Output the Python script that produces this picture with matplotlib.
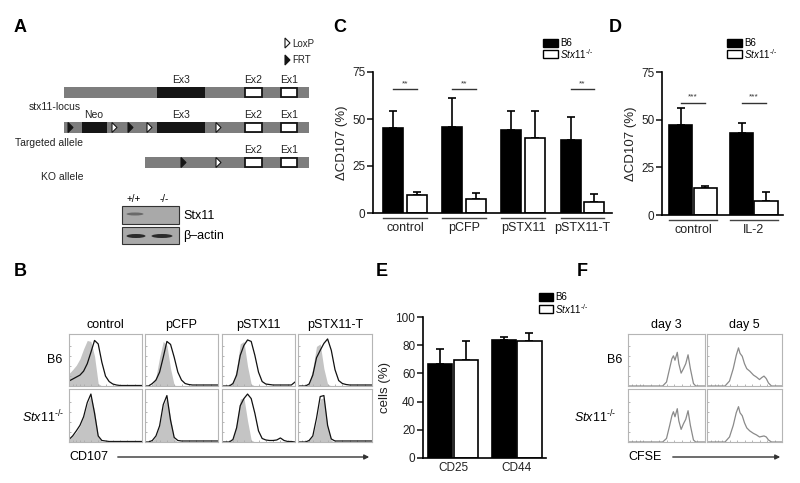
import numpy as np
import matplotlib
matplotlib.use('Agg')
import matplotlib.pyplot as plt
from matplotlib.patches import Rectangle, Polygon, Ellipse

plt.rcParams['font.family'] = ['Liberation Sans', 'DejaVu Sans']
plt.rcParams['mathtext.fontset'] = 'custom'
plt.rcParams['mathtext.rm'] = 'Liberation Sans'
plt.rcParams['mathtext.it'] = 'Liberation Sans:italic'

W, H = 800, 483
STX = r'$\mathit{Stx11}^{\text{-/-}}$'

# ---- datos panel C (degranulacion) ----
c_groups = ['control', 'pCFP', 'pSTX11', 'pSTX11-T']
c_b6 = [45, 46, 44, 39]
c_b6_err = [9, 15, 10, 12]
c_ko = [9.5, 7.5, 40, 6]
c_ko_err = [1.5, 3, 14, 4]
c_sig = ['**', '**', '', '**']

# ---- datos panel D ----
d_groups = ['control', 'IL-2']
d_b6 = [47, 43]
d_b6_err = [9, 5]
d_ko = [14, 7.5]
d_ko_err = [1.2, 4.5]
d_sig = ['***', '***']

# ---- datos panel E ----
e_groups = ['CD25', 'CD44']
e_b6 = [67, 84]
e_b6_err = [10, 1.5]
e_ko = [69.5, 83]
e_ko_err = [13.5, 6]

# ---- histogramas panel B (x comun, gris = isotipo, negro = muestra) ----
b_cols = ['control', 'pCFP', 'pSTX11', 'pSTX11-T']
hist_x = [0, .05, .10, .15, .20, .25, .30, .35, .40, .45, .50,
          .55, .60, .65, .70, .75, .80, .85, .90, .95, 1.0]
b6_gray = [
    [.25, .33, .42, .55, .75, .92, .90, .60, .05, 0, 0, 0, 0, 0, 0, 0, 0, 0, 0, 0, 0],
    [0, 0, .02, .18, .58, .90, .82, .35, .02, 0, 0, 0, 0, 0, 0, 0, 0, 0, 0, 0, 0],
    [0, 0, 0, .06, .35, .85, .90, .40, .04, 0, 0, 0, 0, 0, 0, 0, 0, 0, 0, 0, 0],
    [0, 0, 0, .06, .35, .80, .85, .35, .04, 0, 0, 0, 0, 0, 0, 0, 0, 0, 0, 0, 0],
]
b6_black = [
    [.10, .14, .18, .22, .30, .45, .68, .92, .85, .48, .20, .09, .04, .02, .01, .01, .01, .01, .01, .01, .01],
    [0, 0, .05, .12, .28, .58, .90, .84, .58, .28, .12, .05, .03, .02, .02, .02, .02, .02, .02, .02, .02],
    [0, 0, 0, .05, .22, .62, .82, .93, .90, .62, .28, .09, .04, .03, .02, .02, .02, .02, .02, .02, .08],
    [0, 0, 0, .04, .22, .57, .72, .86, .95, .72, .33, .11, .05, .03, .02, .02, .02, .02, .02, .02, .02],
]
ko_gray = [
    [.05, .12, .20, .32, .50, .75, .92, .62, .12, 0, 0, 0, 0, 0, 0, 0, 0, 0, 0, 0, 0],
    [0, 0, .02, .12, .32, .72, .88, .48, .06, 0, 0, 0, 0, 0, 0, 0, 0, 0, 0, 0, 0],
    [0, 0, 0, .06, .38, .85, .88, .42, .04, 0, 0, 0, 0, 0, 0, 0, 0, 0, 0, 0, 0],
    [0, 0, 0, .03, .12, .42, .85, .88, .32, .03, 0, 0, 0, 0, 0, 0, 0, 0, 0, 0, 0],
]
ko_black = [
    [.05, .12, .22, .33, .50, .78, .95, .57, .12, .03, .02, .01, .01, .01, .01, .01, .01, .01, .01, .01, .01],
    [0, 0, .03, .12, .32, .74, .92, .43, .09, .03, .02, .02, .02, .02, .02, .02, .02, .02, .02, .02, .02],
    [0, 0, 0, .05, .28, .72, .86, .95, .86, .57, .22, .07, .04, .03, .03, .04, .08, .03, .01, .01, 0],
    [0, 0, 0, .03, .12, .47, .90, .92, .33, .06, .02, .02, .02, .02, .02, .02, .02, .02, .02, .02, .02],
]

# ---- histogramas CFSE panel F ----
f_cols = ['day 3', 'day 5']
d3_x = [0, .45, .50, .54, .57, .59, .61, .625, .64, .66, .69, .72, .75, .78, .81, .85, .88, 1]
d3_b6 = [0, 0, .08, .35, .55, .61, .52, .60, .68, .45, .26, .35, .45, .63, .35, .05, 0, 0]
d3_ko = [0, 0, .07, .32, .52, .60, .50, .58, .66, .42, .25, .36, .45, .62, .33, .04, 0, 0]
d5_x = [0, .24, .30, .35, .39, .42, .44, .47, .50, .53, .57, .62, .66, .70, .73, .76, .79, .82, .86, 1]
d5_b6 = [0, 0, .10, .35, .62, .77, .66, .60, .45, .35, .30, .22, .18, .13, .17, .20, .15, .06, 0, 0]
d5_ko = [0, 0, .10, .33, .58, .70, .58, .52, .38, .28, .22, .17, .14, .10, .11, .12, .10, .04, 0, 0]


def px(x0, y0, x1, y1):
    return [x0 / W, 1 - y1 / H, (x1 - x0) / W, (y1 - y0) / H]


fig = plt.figure(figsize=(8, 4.83), dpi=100)
ax0 = fig.add_axes([0, 0, 1, 1])
ax0.set_xlim(0, W)
ax0.set_ylim(H, 0)
ax0.axis('off')

# letras de panel
for letra, lx, ly in [('A', 14, 27), ('B', 14, 271), ('C', 333, 27),
                      ('D', 609, 27), ('E', 376, 271), ('F', 577, 271)]:
    ax0.text(lx, ly, letra, fontsize=13, fontweight='bold', ha='left', va='center')


# ---- panel A: esquema del locus ----
def barra(x0, x1, yc):
    ax0.add_patch(Rectangle((x0, yc - 5.5), x1 - x0, 11, fc='#7d7d7d', ec='none'))


def exon(x0, x1, yc, negro=False):
    if negro:
        ax0.add_patch(Rectangle((x0, yc - 5.5), x1 - x0, 11, fc='#151515', ec='none'))
    else:
        ax0.add_patch(Rectangle((x0, yc - 4.5), x1 - x0, 9, fc='white', ec='#151515', lw=1.3))


def tri(x, yc, lleno):
    ax0.add_patch(Polygon([(x, yc - 5), (x, yc + 5), (x + 5, yc)], closed=True,
                          fc='#151515' if lleno else 'white', ec='#151515', lw=0.8))


def etiqueta(x, y, s, ha='center', fs=7.5):
    ax0.text(x, y, s, fontsize=fs, ha=ha, va='center', color='#222')


# stx11-locus
barra(64, 309, 92.5)
exon(157, 205, 92.5, negro=True)
exon(245, 262, 92.5)
exon(281, 297, 92.5)
etiqueta(181, 80, 'Ex3'); etiqueta(253, 80, 'Ex2'); etiqueta(289, 80, 'Ex1')
etiqueta(29, 107, 'stx11-locus', ha='left')

# targeted allele
barra(64, 309, 127.5)
exon(82, 107, 127.5, negro=True)
exon(157, 205, 127.5, negro=True)
exon(245, 262, 127.5)
exon(281, 297, 127.5)
for tx, lleno in [(68, True), (112, False), (128, True), (147, False), (216, False)]:
    tri(tx, 127.5, lleno)
etiqueta(94, 115, 'Neo'); etiqueta(181, 115, 'Ex3')
etiqueta(253, 115, 'Ex2'); etiqueta(289, 115, 'Ex1')
etiqueta(15, 143, 'Targeted allele', ha='left')

# KO allele
barra(145, 309, 162.5)
exon(245, 262, 162.5)
exon(281, 297, 162.5)
tri(181, 162.5, True)
tri(216, 162.5, False)
etiqueta(253, 150, 'Ex2'); etiqueta(289, 150, 'Ex1')
etiqueta(41, 177, 'KO allele', ha='left')

# leyenda LoxP / FRT
tri(285, 43, False)
tri(285, 60, True)
etiqueta(292, 44, 'LoxP', ha='left', fs=7)
etiqueta(292, 60, 'FRT', ha='left', fs=7)

# western blot
ax0.add_patch(Rectangle((122, 206), 57, 18, fc='#a9a9a9', ec='#333', lw=0.8))
ax0.add_patch(Rectangle((122, 227), 57, 17, fc='#a9a9a9', ec='#333', lw=0.8))
ax0.add_patch(Ellipse((135, 214), 17, 3, fc='#5a5a5a', ec='none', alpha=0.8))
ax0.add_patch(Ellipse((136, 236), 19, 4, fc='#2a2a2a', ec='none'))
ax0.add_patch(Ellipse((162, 236), 21, 4, fc='#2a2a2a', ec='none'))
ax0.text(134, 199, '+/+', fontsize=7, ha='center', va='center')
ax0.text(164, 199, '-/-', fontsize=7, ha='center', va='center')
ax0.text(183, 216, 'Stx11', fontsize=9, ha='left', va='center')
ax0.text(183, 236, 'β–actin', fontsize=9, ha='left', va='center')


# ---- paneles de barras C, D, E ----
def bar_panel(rect, groups, b6, b6_err, ko, ko_err, ymax, yticks, ylabel,
              xlim, bw, off, sig=None, sig_y=0, underline=False, lab_dy=15, fs=9):
    x0, y0, x1, y1 = rect
    ax = fig.add_axes(px(x0, y0, x1, y1))
    ax.set_facecolor('none')
    pos = np.arange(len(groups))
    cero = [0] * len(pos)
    ax.errorbar(pos - off, b6, yerr=[cero, b6_err], fmt='none', ecolor='black',
                elinewidth=1.2, capsize=3, capthick=1.2, zorder=1)
    ax.errorbar(pos + off, ko, yerr=[cero, ko_err], fmt='none', ecolor='black',
                elinewidth=1.2, capsize=3, capthick=1.2, zorder=1)
    ax.bar(pos - off, b6, bw, color='black', edgecolor='black', lw=1.2, zorder=2)
    ax.bar(pos + off, ko, bw, color='white', edgecolor='black', lw=1.2, zorder=2)
    ax.set_xlim(*xlim)
    ax.set_ylim(0, ymax)
    ax.set_yticks(yticks)
    ax.set_xticks([])
    for s in ['top', 'right']:
        ax.spines[s].set_visible(False)
    for s in ['left', 'bottom']:
        ax.spines[s].set_linewidth(1.2)
    ax.tick_params(axis='y', length=4, width=1.2, labelsize=8.5, pad=1.5, colors='#222')
    ax.set_ylabel(ylabel, fontsize=9.5, labelpad=3, color='#222')
    hpx = y1 - y0
    tr = ax.get_xaxis_transform()
    for i, g in enumerate(groups):
        if underline:
            ax.plot([i - off - bw / 2, i + off + bw / 2], [-5 / hpx] * 2, color='#444',
                    lw=1, transform=tr, clip_on=False)
        ax.text(i, -lab_dy / hpx, g, ha='center', va='center', fontsize=fs,
                transform=tr, color='#222')
        if sig and sig[i]:
            ax.plot([i - off, i + off], [sig_y] * 2, color='#333', lw=1)
            ax.text(i, sig_y + 1, sig[i], ha='center', va='bottom', fontsize=6,
                    color='#333')
    return ax


bar_panel((373, 72, 612, 213), c_groups, c_b6, c_b6_err, c_ko, c_ko_err, 75,
          [0, 25, 50, 75], 'ΔCD107 (%)', (-0.54, 3.5), 0.34, 0.2,
          sig=c_sig, sig_y=66, underline=True)
bar_panel((662, 72, 783, 215), d_groups, d_b6, d_b6_err, d_ko, d_ko_err, 75,
          [0, 25, 50, 75], 'ΔCD107 (%)', (-0.51, 1.48), 0.38, 0.2,
          sig=d_sig, sig_y=59, underline=True)
bar_panel((423, 317, 546, 458), e_groups, e_b6, e_b6_err, e_ko, e_ko_err, 100,
          [0, 20, 40, 60, 80, 100], 'cells (%)', (-0.47, 1.46), 0.38, 0.2,
          lab_dy=10, fs=8.5)


# leyendas de barras
def leyenda(x, y1, y2, w=15):
    ax0.add_patch(Rectangle((x, y1 - 4), w, 8, fc='black', ec='black', lw=1))
    ax0.add_patch(Rectangle((x, y2 - 4), w, 8, fc='white', ec='black', lw=1))
    ax0.text(x + w + 2, y1, 'B6', fontsize=7, ha='left', va='center')
    ax0.text(x + w + 2, y2, STX, fontsize=7, ha='left', va='center')


leyenda(543, 43, 54)
leyenda(727, 43, 54)
leyenda(539, 297, 309, w=14)


# ---- histogramas ----
def hist_ax(x0, y0, x1, y1):
    ax = fig.add_axes(px(x0, y0, x1, y1))
    ax.set_xlim(0, 1)
    ax.set_ylim(0, 1.05)
    for s in ax.spines.values():
        s.set_color('#b5b5b5')
        s.set_linewidth(0.8)
    ax.set_xticks([.05, .1, .15, .2, .3, .4, .5, .6, .7, .8, .9])
    ax.set_yticks([.2, .4, .6, .8])
    ax.tick_params(direction='in', length=1.5, width=0.6, colors='#aaaaaa',
                   labelbottom=False, labelleft=False)
    return ax


b_xs = [(69, 142), (145, 218), (222, 295), (298, 372)]
rows = [(334, 386), (389, 442)]
for j, (xa, xb) in enumerate(b_xs):
    for r, (ya, yb) in enumerate(rows):
        ax = hist_ax(xa, ya, xb, yb)
        gris = b6_gray[j] if r == 0 else ko_gray[j]
        negro = b6_black[j] if r == 0 else ko_black[j]
        ax.fill_between(hist_x, 0, gris, color='#c4c4c4', lw=0)
        ax.plot(hist_x, negro, color='#111', lw=0.9)
    ax0.text((xa + xb) / 2, 325, b_cols[j], fontsize=9, ha='center', va='center')

ax0.text(62, 360, 'B6', fontsize=9, ha='right', va='center')
ax0.text(64, 417, STX, fontsize=9, ha='right', va='center')
ax0.text(69, 457, 'CD107', fontsize=9, ha='left', va='center')
ax0.annotate('', xy=(372, 457), xytext=(115, 457),
             arrowprops=dict(arrowstyle='-|>', color='#333', lw=1, mutation_scale=7))

f_xs = [(628, 705), (707, 782)]
f_data = [(d3_x, d3_b6, d3_ko), (d5_x, d5_b6, d5_ko)]
for j, (xa, xb) in enumerate(f_xs):
    fx, fb6, fko = f_data[j]
    for r, (ya, yb) in enumerate(rows):
        ax = hist_ax(xa, ya, xb, yb)
        ax.plot(fx, fb6 if r == 0 else fko, color='#8a8a8a', lw=0.9)
    ax0.text((xa + xb) / 2, 325, f_cols[j], fontsize=9, ha='center', va='center')

ax0.text(622, 360, 'B6', fontsize=9, ha='right', va='center')
ax0.text(616, 417, STX, fontsize=9, ha='right', va='center')
ax0.text(628, 457, 'CFSE', fontsize=9, ha='left', va='center')
ax0.annotate('', xy=(783, 457), xytext=(670, 457),
             arrowprops=dict(arrowstyle='-|>', color='#333', lw=1, mutation_scale=7))

fig.savefig('out.png', dpi=100)
